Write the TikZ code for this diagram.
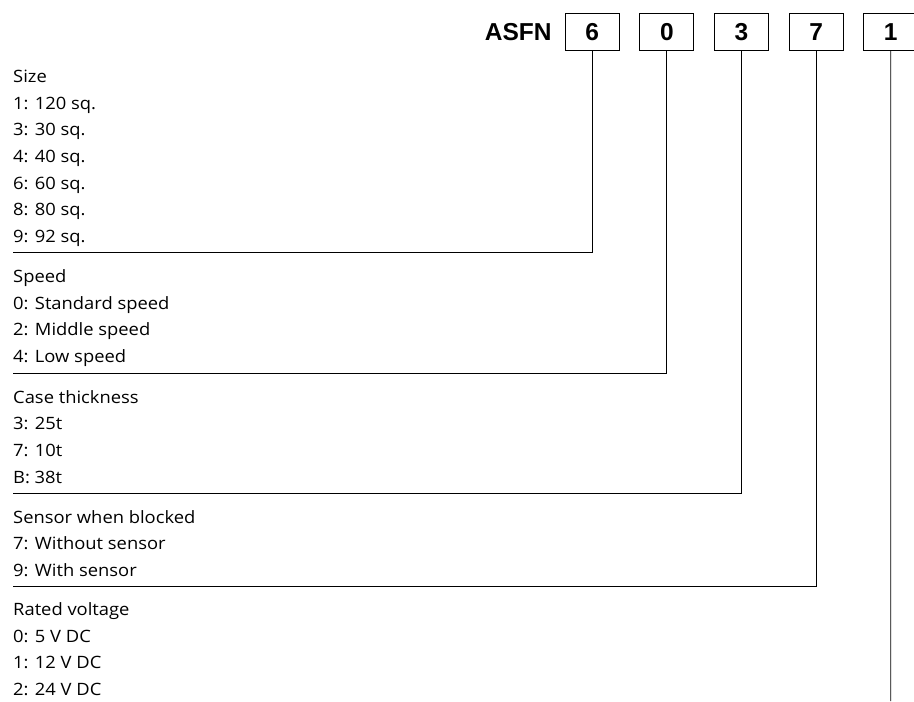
\documentclass[tikz,border=0pt]{standalone}
\usepackage{fontspec}
\setmainfont{Open Sans}[FakeStretch=1.08]
\newfontfamily\hdfont{Liberation Sans}
\usetikzlibrary{positioning}

\tikzset{
  digit/.style={draw,line width=0.9pt,minimum width=54pt,minimum height=37pt,inner sep=0pt,font=\hdfont\bfseries\fontsize{24.5}{24.5}\selectfont},
  row/.style={anchor=base west,inner sep=0pt,font=\fontsize{17}{17}\selectfont},
  lead/.style={line width=0.9pt}
}

\begin{document}
\begin{tikzpicture}[x=1pt,y=-1pt]
        \useasboundingbox (0,0) rectangle (914,702);

        % code boxes
        \foreach \X [count=\Y] in {6,0,3,7,1}
        {\node [digit] (B\Y) at ({592.3+74.6*(\Y-1)},31.7) {\X};}
        \node [left=13pt of B1,inner sep=0pt,font=\hdfont\bfseries\fontsize{24.5}{24.5}\selectfont] (ASFN) {ASFN};

        % size
        \foreach \t [count=\i from 0] in {Size,1: 120 sq.,3: 30 sq.,4: 40 sq.,6: 60 sq.,8: 80 sq.,9: 92 sq.}
        {\node [row] (S\i) at (13,82.7+26.6*\i) {\t};}
        \coordinate (LS) at (13,252.9);
        \draw [lead] (B1.south) |- (LS);

        % speed
        \foreach \t [count=\i from 0] in {Speed,0: Standard speed,2: Middle speed,4: Low speed}
        {\node [row] (P\i) at (13,282.7+26.6*\i) {\t};}
        \coordinate (LP) at (13,373.3);
        \draw [lead] (B2.south) |- (LP);

        % case thickness
        \foreach \t [count=\i from 0] in {Case thickness,3: 25t,7: 10t,B: 38t}
        {\node [row] (C\i) at (13,403.3+26.6*\i) {\t};}
        \coordinate (LC) at (13,493.8);
        \draw [lead] (B3.south) |- (LC);

        % sensor
        \foreach \t [count=\i from 0] in {Sensor when blocked,7: Without sensor,9: With sensor}
        {\node [row] (N\i) at (13,523.3+26.6*\i) {\t};}
        \coordinate (LN) at (13,586.6);
        \draw [lead] (B4.south) |- (LN);

        % rated voltage
        \foreach \t [count=\i from 0] in {Rated voltage,0: 5 V DC,1: 12 V DC,2: 24 V DC}
        {\node [row] (V\i) at (13,615.5+26.6*\i) {\t};}
        \coordinate (LV) at (890.7,701);
        \draw [lead] (B5.south) -- (LV);
\end{tikzpicture}
\end{document}
